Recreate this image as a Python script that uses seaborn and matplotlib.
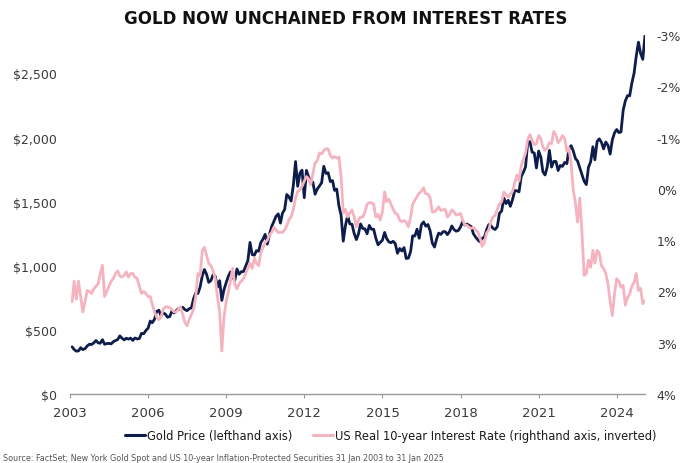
import matplotlib
matplotlib.use("Agg")
import matplotlib.pyplot as plt
import matplotlib.dates as mdates
from matplotlib.lines import Line2D
import seaborn as sns
import pandas as pd
import numpy as np

# ---------------- data (month-end values, Jan 2003 .. Jan 2025) ----------------
gold_2003 = [368, 347, 334, 336, 361, 346, 354, 375, 388, 386, 398, 417]
gold_2004 = [399, 396, 424, 388, 393, 395, 391, 408, 416, 425, 453, 435]
gold_2005 = [422, 435, 428, 436, 418, 437, 429, 433, 473, 470, 495, 513]
gold_2006 = [569, 556, 582, 644, 653, 613, 633, 623, 599, 604, 646, 632]
gold_2007 = [650, 665, 662, 677, 659, 650, 665, 672, 743, 789, 783, 834]
gold_2008 = [923, 971, 933, 871, 885, 930, 918, 833, 884, 730, 814, 869]
gold_2009 = [919, 952, 916, 883, 975, 934, 954, 955, 996, 1040, 1182, 1087]
gold_2010 = [1083, 1118, 1113, 1180, 1208, 1245, 1169, 1246, 1307, 1346, 1386, 1405]
gold_2011 = [1333, 1410, 1439, 1556, 1536, 1505, 1628, 1813, 1620, 1722, 1746, 1531]
gold_2012 = [1744, 1694, 1662, 1651, 1558, 1598, 1622, 1648, 1776, 1720, 1726, 1657]
gold_2013 = [1664, 1588, 1598, 1469, 1394, 1192, 1314, 1394, 1327, 1324, 1253, 1204]
gold_2014 = [1251, 1326, 1291, 1288, 1250, 1315, 1285, 1285, 1216, 1164, 1182, 1199]
gold_2015 = [1260, 1214, 1187, 1180, 1191, 1172, 1098, 1135, 1115, 1142, 1057, 1060]
gold_2016 = [1111, 1234, 1233, 1285, 1215, 1320, 1342, 1309, 1322, 1272, 1178, 1146]
gold_2017 = [1212, 1255, 1245, 1266, 1266, 1243, 1267, 1311, 1283, 1270, 1275, 1303]
gold_2018 = [1345, 1318, 1325, 1316, 1305, 1250, 1224, 1202, 1187, 1215, 1221, 1279]
gold_2019 = [1321, 1316, 1292, 1283, 1305, 1409, 1427, 1528, 1485, 1511, 1464, 1517]
gold_2020 = [1587, 1585, 1577, 1694, 1730, 1771, 1963, 1968, 1887, 1879, 1763, 1895]
gold_2021 = [1848, 1734, 1708, 1769, 1900, 1770, 1814, 1814, 1743, 1783, 1775, 1806]
gold_2022 = [1797, 1909, 1937, 1897, 1837, 1817, 1765, 1711, 1660, 1633, 1768, 1812]
gold_2023 = [1928, 1827, 1969, 1990, 1963, 1912, 1965, 1940, 1871, 1983, 2036, 2063]
gold_2024 = [2039, 2044, 2214, 2286, 2327, 2326, 2426, 2503, 2634, 2744, 2657, 2610]
gold_2025 = [2798]

rate_2003 = [2.20, 1.80, 2.15, 1.80, 2.10, 2.40, 2.20, 1.98, 2.00, 2.04, 1.95, 1.90]
rate_2004 = [1.85, 1.65, 1.49, 2.10, 2.00, 1.90, 1.80, 1.75, 1.65, 1.60, 1.70, 1.72]
rate_2005 = [1.68, 1.62, 1.72, 1.65, 1.65, 1.72, 1.75, 1.90, 2.04, 2.00, 2.04, 2.10]
rate_2006 = [2.10, 2.25, 2.40, 2.50, 2.55, 2.50, 2.35, 2.30, 2.30, 2.32, 2.35, 2.40]
rate_2007 = [2.40, 2.35, 2.30, 2.45, 2.60, 2.67, 2.55, 2.45, 2.35, 2.10, 1.65, 1.70]
rate_2008 = [1.20, 1.14, 1.30, 1.45, 1.50, 1.60, 1.75, 2.10, 2.40, 3.16, 2.50, 2.20]
rate_2009 = [2.00, 1.80, 1.55, 1.85, 1.95, 1.85, 1.80, 1.75, 1.65, 1.55, 1.45, 1.55]
rate_2010 = [1.35, 1.45, 1.50, 1.25, 1.15, 1.05, 1.00, 0.90, 0.85, 0.75, 0.80, 0.85]
rate_2011 = [0.85, 0.85, 0.80, 0.72, 0.60, 0.55, 0.40, 0.18, 0.05, 0.02, -0.05, -0.15]
rate_2012 = [-0.24, -0.20, -0.08, -0.30, -0.50, -0.55, -0.70, -0.68, -0.75, -0.78, -0.78, -0.65]
rate_2013 = [-0.60, -0.63, -0.60, -0.62, -0.24, 0.47, 0.40, 0.55, 0.47, 0.41, 0.55, 0.74]
rate_2014 = [0.60, 0.55, 0.55, 0.45, 0.30, 0.27, 0.27, 0.30, 0.55, 0.50, 0.61, 0.45]
rate_2015 = [0.06, 0.25, 0.20, 0.30, 0.40, 0.47, 0.50, 0.61, 0.64, 0.62, 0.65, 0.74]
rate_2016 = [0.55, 0.30, 0.22, 0.15, 0.08, 0.05, -0.02, 0.10, 0.10, 0.18, 0.45, 0.45]
rate_2017 = [0.40, 0.35, 0.42, 0.41, 0.40, 0.55, 0.50, 0.41, 0.45, 0.51, 0.50, 0.48]
rate_2018 = [0.61, 0.70, 0.71, 0.75, 0.77, 0.75, 0.80, 0.84, 0.95, 1.12, 1.05, 0.86]
rate_2019 = [0.80, 0.65, 0.55, 0.52, 0.40, 0.30, 0.25, 0.06, 0.12, 0.16, 0.10, 0.05]
rate_2020 = [-0.12, -0.27, -0.15, -0.45, -0.57, -0.70, -0.96, -1.06, -0.95, -0.86, -0.88, -1.04]
rate_2021 = [-0.98, -0.82, -0.75, -0.80, -0.90, -0.88, -1.12, -1.05, -0.90, -0.95, -1.04, -0.98]
rate_2022 = [-0.73, -0.80, -0.50, 0.02, 0.27, 0.65, 0.18, 0.85, 1.69, 1.65, 1.39, 1.53]
rate_2023 = [1.20, 1.45, 1.20, 1.25, 1.50, 1.55, 1.65, 1.85, 2.20, 2.47, 2.05, 1.75]
rate_2024 = [1.80, 1.92, 1.88, 2.27, 2.12, 2.05, 1.90, 1.82, 1.65, 1.98, 1.94, 2.24]
rate_2025 = [2.18]

gold = (gold_2003 + gold_2004 + gold_2005 + gold_2006 + gold_2007 + gold_2008 +
        gold_2009 + gold_2010 + gold_2011 + gold_2012 + gold_2013 + gold_2014 +
        gold_2015 + gold_2016 + gold_2017 + gold_2018 + gold_2019 + gold_2020 +
        gold_2021 + gold_2022 + gold_2023 + gold_2024 + gold_2025)
rate = (rate_2003 + rate_2004 + rate_2005 + rate_2006 + rate_2007 + rate_2008 +
        rate_2009 + rate_2010 + rate_2011 + rate_2012 + rate_2013 + rate_2014 +
        rate_2015 + rate_2016 + rate_2017 + rate_2018 + rate_2019 + rate_2020 +
        rate_2021 + rate_2022 + rate_2023 + rate_2024 + rate_2025)

dates = pd.date_range("2003-01-31", "2025-01-31", freq="ME")
df = pd.DataFrame({"date": dates, "gold": gold, "rate": rate})

year_ticks = [2003, 2006, 2009, 2012, 2015, 2018, 2021, 2024]
left_ticks = [0, 500, 1000, 1500, 2000, 2500]
left_labels = ["$0", "$500", "$1,000", "$1,500", "$2,000", "$2,500"]
right_ticks = [-3, -2, -1, 0, 1, 2, 3, 4]
right_labels = ["-3%", "-2%", "-1%", "0%", "1%", "2%", "3%", "4%"]

title = "GOLD NOW UNCHAINED FROM INTEREST RATES"
gold_label = "Gold Price (lefthand axis)"
rate_label = "US Real 10-year Interest Rate (righthand axis, inverted)"
source = ("Source: FactSet; New York Gold Spot and US 10-year Inflation-Protected "
          "Securities 31 Jan 2003 to 31 Jan 2025")

NAVY = "#0d1c4a"
PINK = "#f5b3bf"
TXT = "#3a3a3a"

# ---------------- plot ----------------
sns.set_theme(style="white")
plt.rcParams["font.family"] = ["DejaVu Sans"]

fig = plt.figure(figsize=(6.91, 4.64), dpi=100)
ax = fig.add_axes([70 / 691, 69 / 464, 575 / 691, 359 / 464])
ax2 = ax.twinx()

sns.lineplot(data=df, x="date", y="gold", ax=ax, color=NAVY, linewidth=2.0)
sns.lineplot(data=df, x="date", y="rate", ax=ax2, color=PINK, linewidth=2.0)

ax.set_xlim(pd.Timestamp("2003-01-01"), pd.Timestamp("2025-01-31"))
ax.set_ylim(0, 2800)
ax2.set_ylim(4, -3)

ax.set_xticks([pd.Timestamp(f"{y}-01-01") for y in year_ticks])
ax.xaxis.set_major_formatter(mdates.DateFormatter("%Y"))
ax.set_yticks(left_ticks)
ax.set_yticklabels(left_labels)
ax2.set_yticks(right_ticks)
ax2.set_yticklabels(right_labels)

for a in (ax, ax2):
    a.set_xlabel("")
    a.set_ylabel("")
    for s in a.spines.values():
        s.set_visible(False)
    a.grid(False)

ax.spines["bottom"].set_visible(True)
ax.spines["bottom"].set_color("#9a9a9a")
ax.spines["bottom"].set_linewidth(1.0)

ax.tick_params(axis="x", which="both", bottom=True, direction="out", length=3,
               width=0.8, color="#9a9a9a", pad=6, labelsize=9.5, labelcolor=TXT)
ax.tick_params(axis="y", left=False, length=0, pad=9.4, labelsize=9, labelcolor=TXT)
ax2.tick_params(axis="y", right=False, length=0, pad=8.4, labelsize=9, labelcolor=TXT)

fig.text(0.5, 1 - 19 / 464, title, ha="center", va="center",
         fontsize=12, fontweight="bold", color="#111111")

handles = [Line2D([0], [0], color=NAVY, lw=2.2),
           Line2D([0], [0], color=PINK, lw=2.2)]
fig.legend(handles, [gold_label, rate_label], loc="center",
           bbox_to_anchor=(391 / 691, 1 - 437 / 464), ncol=2, frameon=False,
           fontsize=8.3, handlelength=1.7, handletextpad=0.2, columnspacing=1.8,
           labelcolor="#1a1a1a")

fig.text(3 / 691, 1 - 459 / 464, source, ha="left", va="center",
         fontsize=5.8, color="#555555")

fig.savefig("out.png", dpi=100)
